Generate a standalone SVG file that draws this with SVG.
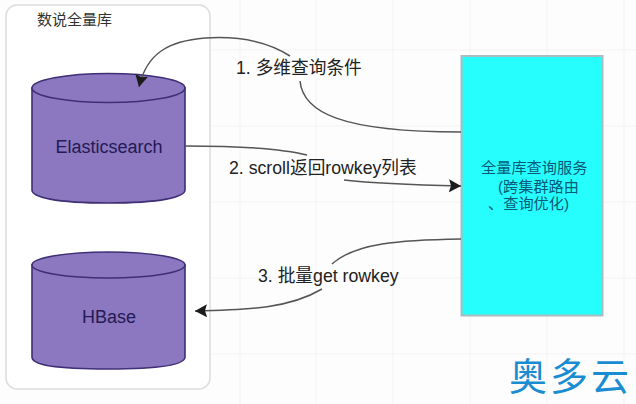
<svg xmlns="http://www.w3.org/2000/svg" width="636" height="404" viewBox="0 0 636 404">
<style>
.cyl{fill:#8b78c0;stroke:#3f2f75;stroke-width:1.6}
.top{fill:#8b78c0;stroke:#3f2f75;stroke-width:1.6}
.c{fill:none;stroke:#555;stroke-width:1.5}
.g{fill:none;stroke:#f5f1f1;stroke-width:1}
.t{font-family:"Liberation Sans","Noto Sans CJK SC",sans-serif}
.l{fill:#222}
.n{font-size:18px;fill:#241a55;text-anchor:middle}
.s{font-size:15.2px;fill:#0a5a78}
</style>
<defs>
<marker id="a" markerUnits="userSpaceOnUse" markerWidth="16" markerHeight="14" refX="12" refY="6.500" orient="auto"><path d="M0 0L12 6.500L0 13L2 6.500Z" fill="#1c1c1c"/></marker>
</defs>
<rect width="636" height="404" fill="#fefdfd"/>
<path class="g" d="M240 0V404M316 0V404M393 0V404M470 0V404M547 0V404M624 0V404M210 50H636M210 126H636M210 202H636M210 278H636M210 354H636"/>
<g id="store">
<rect x="6" y="5" width="204" height="384" rx="11" fill="#fff" stroke="#dcdcdc" stroke-width="1.5"/>
<text class="t" x="37" y="25" font-size="15" fill="#333">数说全量库</text>
</g>
<g id="elasticsearch">
<path class="cyl" d="M32 88V190C32 197 55 203 108 203C161 203 185 197 185 190V88Z"/>
<ellipse class="top" cx="108.500" cy="88" rx="76.500" ry="14.500"/>
<text class="t n" x="109" y="153">Elasticsearch</text>
</g>
<g id="hbase">
<path class="cyl" d="M32 265V357C32 365 55 369 108 369C161 369 185 365 185 357V265Z"/>
<ellipse class="top" cx="108.500" cy="265" rx="76.500" ry="13"/>
<text class="t n" x="109" y="323">HBase</text>
</g>
<g id="service">
<rect x="461.500" y="56" width="141" height="259.500" fill="#26fdfd" stroke="#a9bcc0" stroke-width="2"/>
<text class="t s" x="481" y="173">全量库查询服务</text>
<text class="t s" x="498" y="192">(跨集群路由</text>
<text class="t s" x="488" y="209">、查询优化)</text>
</g>
<g id="connectors">
<path class="c" marker-end="url(#a)" d="M290 56C265 40 235 36 205 38C170 41 147 52 139 87"/>
<path class="c" d="M300 81C303 112 340 132 461 132"/>
<path class="c" d="M185 146C225 146 280 148 307 155"/>
<path class="c" marker-end="url(#a)" d="M344 180C380 184 420 185 461 186"/>
<path class="c" d="M461 239C400 240 355 243 332 264"/>
<path class="c" marker-end="url(#a)" d="M322 289C290 308 250 310 195 311"/>
</g>
<g id="labels">
<text class="t l" x="236" y="74" font-size="17.700">1. 多维查询条件</text>
<text class="t l" x="229" y="174" font-size="17.700">2. scroll返回rowkey列表</text>
<text class="t l" x="258" y="282" font-size="17.700">3. 批量get rowkey</text>
</g>
<text class="t" id="watermark" x="509" y="390" font-size="38" letter-spacing="3" fill="#1a8dd2">奥多云</text>
</svg>
